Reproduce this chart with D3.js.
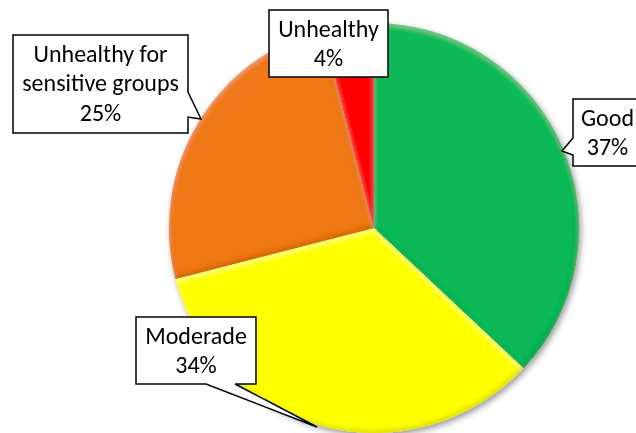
<!DOCTYPE html>
<html>
<head>
<meta charset="utf-8">
<script src="https://cdn.jsdelivr.net/npm/d3@7/dist/d3.min.js"></script>
<style>
  html, body { margin: 0; padding: 0; background: #ffffff; }
  svg { display: block; }
  text { font-family: Carlito, Lato, "Open Sans", sans-serif; }
</style>
</head>
<body>
<svg id="chart" width="636" height="433"></svg>
<script>
// ---- data ----
const categories = ["Good", "Moderade", "Unhealthy for sensitive groups", "Unhealthy"];
const values = [37, 34, 25, 4];
const labelNames = [["Good"], ["Moderade"], ["Unhealthy for", "sensitive groups"], ["Unhealthy"]];
const colors = ["#0bb957", "#ffff00", "#ef7817", "#ff0000"];

// ---- layout ----
const W = 636, H = 433;
const cx = 374, cy = 228, R = 205;
const fontSize = 24, lineH = 29.5;

// callout boxes: [x0, y0, x1, y1], pointer side and geometry
const callouts = [
  { box: [573, 99, 642, 166], side: "left", p: [138, 155], tip: [562, 151] },
  { box: [136, 317, 256, 384], side: "bottom", p: [235, 206], tip: [317, 427] },
  { box: [13, 35, 188, 133], side: "right", p: [92, 117], tip: [201, 119] },
  { box: [269, 10, 388, 77], side: "none" }
];

const svg = d3.select("#chart");
const defs = svg.append("defs");

// bevel filter for slices
const bev = defs.append("filter").attr("id", "bevel")
  .attr("x", "-10%").attr("y", "-10%").attr("width", "120%").attr("height", "120%");
bev.append("feOffset").attr("in", "SourceAlpha").attr("dx", -2.5).attr("dy", -3).attr("result", "o1");
bev.append("feGaussianBlur").attr("in", "o1").attr("stdDeviation", 2).attr("result", "b1");
bev.append("feComposite").attr("in", "b1").attr("in2", "SourceAlpha")
  .attr("operator", "arithmetic").attr("k2", -1).attr("k3", 1).attr("result", "shMask");
bev.append("feFlood").attr("flood-color", "#000").attr("flood-opacity", 0.25).attr("result", "f1");
bev.append("feComposite").attr("in", "f1").attr("in2", "shMask").attr("operator", "in").attr("result", "shadow");
bev.append("feOffset").attr("in", "SourceAlpha").attr("dx", 0).attr("dy", 3).attr("result", "o2");
bev.append("feGaussianBlur").attr("in", "o2").attr("stdDeviation", 2).attr("result", "b2");
bev.append("feComposite").attr("in", "b2").attr("in2", "SourceAlpha")
  .attr("operator", "arithmetic").attr("k2", -1).attr("k3", 1).attr("result", "hlMask");
bev.append("feFlood").attr("flood-color", "#fff").attr("flood-opacity", 0.18).attr("result", "f2");
bev.append("feComposite").attr("in", "f2").attr("in2", "hlMask").attr("operator", "in").attr("result", "hl");
const m = bev.append("feMerge");
m.append("feMergeNode").attr("in", "SourceGraphic");
m.append("feMergeNode").attr("in", "shadow");
m.append("feMergeNode").attr("in", "hl");

// drop shadow for pie
const ds = defs.append("filter").attr("id", "drop")
  .attr("x", "-10%").attr("y", "-10%").attr("width", "125%").attr("height", "125%");
ds.append("feDropShadow").attr("dx", 2).attr("dy", 3).attr("stdDeviation", 3)
  .attr("flood-color", "#000").attr("flood-opacity", 0.4);

const pie = d3.pie().sort(null).value(d => d)(values);
const arc = d3.arc().innerRadius(0).outerRadius(R);

const pieG = svg.append("g").attr("transform", `translate(${cx},${cy})`).attr("filter", "url(#drop)");
pieG.selectAll("path.slice").data(pie).join("path")
  .attr("class", "slice")
  .attr("d", arc)
  .attr("fill", (d, i) => colors[i])
  .attr("filter", "url(#bevel)");

// callouts
const total = d3.sum(values);
const fmt = v => Math.round(v / total * 100) + "%";

function calloutPath(c) {
  const [x0, y0, x1, y1] = c.box;
  const pts = [[x0, y0], [x1, y0]];
  if (c.side === "right") {
    pts.push([x1, c.p[0]], c.tip, [x1, c.p[1]]);
  }
  pts.push([x1, y1]);
  if (c.side === "bottom") {
    pts.push([c.p[0], y1], c.tip, [c.p[1], y1]);
  }
  pts.push([x0, y1]);
  if (c.side === "left") {
    pts.push([x0, c.p[1]], c.tip, [x0, c.p[0]]);
  }
  return d3.line()(pts) + "Z";
}

const lg = svg.append("g");
callouts.forEach((c, i) => {
  lg.append("path").attr("d", calloutPath(c))
    .attr("fill", "#fff").attr("stroke", "#000").attr("stroke-width", 1.5)
    .attr("stroke-linejoin", "miter");
  const lines = labelNames[i].concat([fmt(values[i])]);
  const [x0, y0, x1, y1] = c.box;
  const tx = (x0 + x1) / 2;
  const firstBase = y0 + 26.5;
  lines.forEach((t, j) => {
    lg.append("text").attr("x", tx).attr("y", firstBase + j * lineH)
      .attr("text-anchor", "middle").attr("font-size", fontSize).attr("fill", "#000")
      .text(t);
  });
});
</script>
</body>
</html>
